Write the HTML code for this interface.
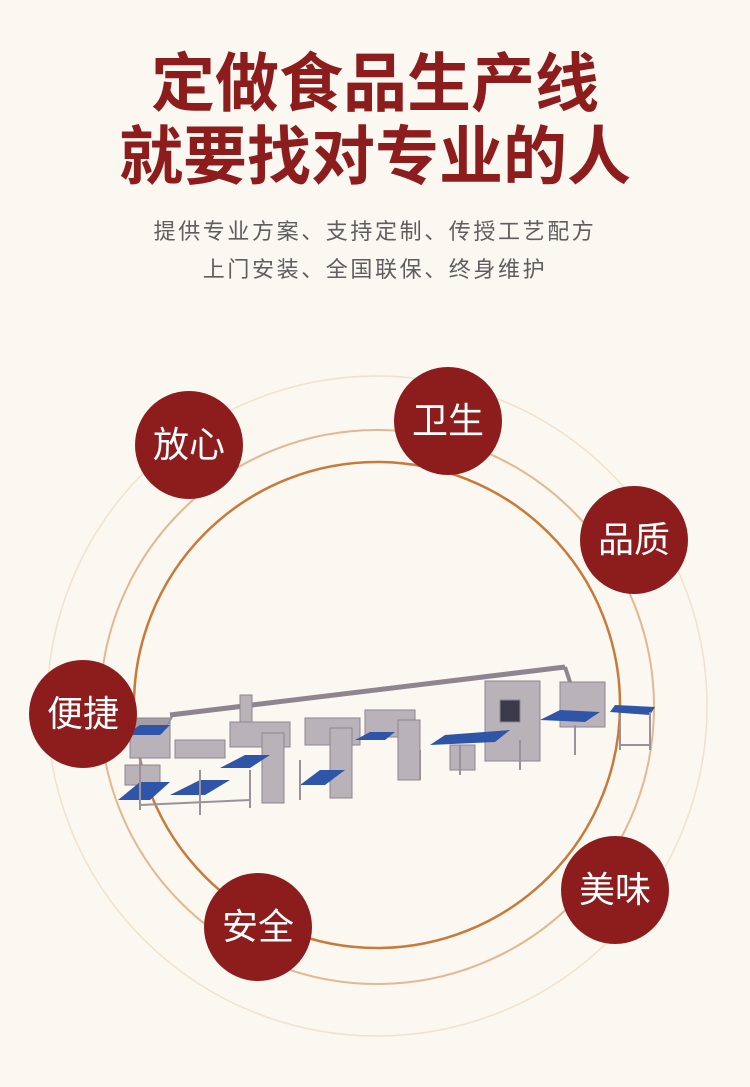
<!DOCTYPE html>
<html><head><meta charset="utf-8"><style>
html,body{margin:0;padding:0}
body{width:750px;height:1087px;background:#fbf7f1;position:relative;overflow:hidden;font-family:"Liberation Sans","Noto Sans CJK SC",sans-serif}
.t{position:absolute;left:0;width:750px;text-align:center;color:#8d1d1d;font-weight:bold;font-size:64px;line-height:72px}
.s{position:absolute;left:0;width:750px;text-align:center;color:#5e5e5e;font-size:22px;letter-spacing:2.6px;line-height:30px}
.c{position:absolute;width:108px;height:108px;border-radius:50%;background:#8d1d1d;color:#fff;font-size:36px;line-height:108px;text-align:center}
</style></head><body>
<div class="t" style="top:48px">定做食品生产线</div>
<div class="t" style="top:121px">就要找对专业的人</div>
<div class="s" style="top:217px">提供专业方案、支持定制、传授工艺配方</div>
<div class="s" style="top:255px">上门安装、全国联保、终身维护</div>
<svg width="750" height="1087" style="position:absolute;left:0;top:0">
<circle cx="377" cy="706" r="330" fill="none" stroke="#f0e2cc" stroke-width="1.5"/>
<circle cx="377" cy="707" r="277" fill="none" stroke="#e3b890" stroke-width="2"/>
<circle cx="377" cy="705" r="243" fill="none" stroke="#c87a3a" stroke-width="2.5"/>
<g stroke="#8e8590" fill="#b9b2b8">
<line x1="170" y1="715" x2="565" y2="667" stroke-width="5"/>
<line x1="565" y1="667" x2="570" y2="682" stroke-width="4"/>
<rect x="130" y="722" width="40" height="36"/>
<polygon points="125,718 172,718 162,733 135,733" fill="#a59ea5"/>
<rect x="175" y="740" width="50" height="18"/>
<rect x="125" y="765" width="35" height="20"/>
<rect x="240" y="695" width="12" height="28"/>
<rect x="230" y="722" width="60" height="25"/>
<rect x="262" y="733" width="22" height="70"/>
<rect x="305" y="718" width="55" height="27"/>
<rect x="330" y="728" width="22" height="70"/>
<rect x="365" y="710" width="50" height="27"/>
<rect x="398" y="720" width="22" height="60"/>
<rect x="450" y="745" width="25" height="25"/>
<rect x="485" y="681" width="55" height="80"/>
<rect x="500" y="700" width="20" height="22" fill="#3a3a4a"/>
<rect x="560" y="682" width="45" height="45"/>
</g>
<g fill="#2f55a8">
<polygon points="118,800 140,782 170,782 150,800"/>
<polygon points="170,795 200,780 230,780 205,795"/>
<polygon points="220,768 245,755 270,755 250,768"/>
<polygon points="300,785 320,770 345,770 325,785"/>
<polygon points="430,745 445,735 510,730 495,742"/>
<polygon points="610,712 615,705 655,707 650,715"/>
<polygon points="540,720 560,710 600,712 585,722"/>
<polygon points="125,735 140,725 170,725 160,735"/>
<polygon points="355,740 370,732 395,732 385,740"/>
</g>
<g stroke="#9a919a" stroke-width="2">
<line x1="140" y1="760" x2="140" y2="810"/><line x1="200" y1="770" x2="200" y2="815"/>
<line x1="250" y1="770" x2="250" y2="808"/><line x1="300" y1="760" x2="300" y2="800"/>
<line x1="420" y1="750" x2="420" y2="780"/><line x1="460" y1="745" x2="460" y2="775"/>
<line x1="520" y1="740" x2="520" y2="770"/><line x1="575" y1="725" x2="575" y2="755"/>
<line x1="620" y1="715" x2="620" y2="750"/><line x1="650" y1="712" x2="650" y2="750"/>
<line x1="140" y1="805" x2="250" y2="800"/><line x1="620" y1="745" x2="650" y2="745"/>
</g>
</svg>
<div class="c" style="left:135px;top:391px">放心</div>
<div class="c" style="left:394px;top:367px">卫生</div>
<div class="c" style="left:580px;top:486px">品质</div>
<div class="c" style="left:29px;top:660px">便捷</div>
<div class="c" style="left:204px;top:873px">安全</div>
<div class="c" style="left:561px;top:836px">美味</div>
</body></html>
